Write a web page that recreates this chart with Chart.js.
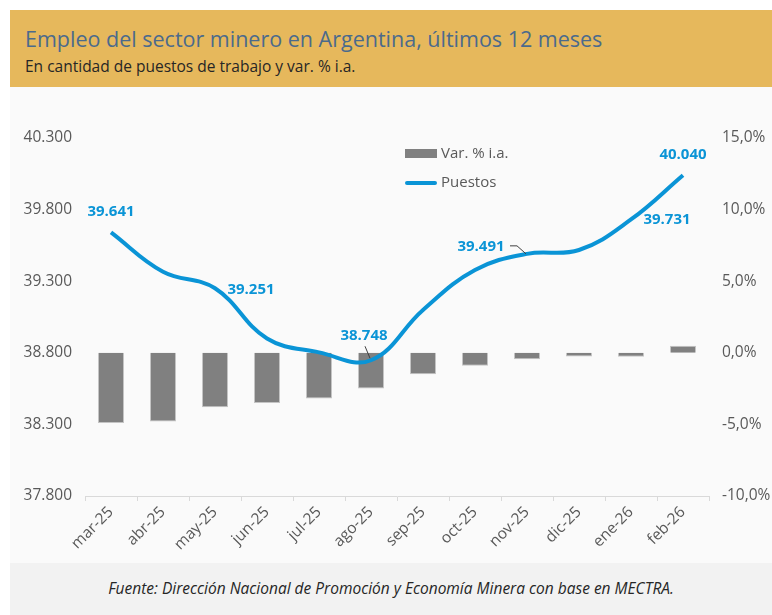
<!DOCTYPE html>
<html>
<head>
<meta charset="utf-8">
<script src="https://cdn.jsdelivr.net/npm/chart.js@4"></script>
<style>
  body { margin: 0; background: #fff; font-family: 'Open Sans', sans-serif; }
  #page { position: relative; width: 772px; height: 615px; overflow: hidden; }
  #header { position: absolute; left: 10px; top: 10px; width: 762px; height: 77px; background: #E6B85C; }
  #title { position: absolute; left: 15px; top: 14px; font-size: 21.5px; color: #4B6A8C; white-space: nowrap; }
  #subtitle { position: absolute; left: 15px; top: 45px; font-size: 15.5px; color: #262626; white-space: nowrap; }
  #chartBox { position: absolute; left: 10px; top: 87px; width: 762px; height: 476px; background: #FAFAFA; }
  #footer { position: absolute; left: 10px; top: 563px; width: 762px; height: 52px; background: #F2F2F2;
            text-align: center; line-height: 50px; font-size: 15.5px; font-style: italic; color: #262626; }
</style>
</head>
<body>
<div id="page">
  <div id="header">
    <div id="title">Empleo del sector minero en Argentina, últimos 12 meses</div>
    <div id="subtitle">En cantidad de puestos de trabajo y var. % i.a.</div>
  </div>
  <div id="chartBox"><canvas id="chart" width="762" height="476"></canvas></div>
  <div id="footer">Fuente: Dirección Nacional de Promoción y Economía Minera con base en MECTRA.</div>
</div>
<script>
// Datos
const months = ['mar-25', 'abr-25', 'may-25', 'jun-25', 'jul-25', 'ago-25', 'sep-25', 'oct-25', 'nov-25', 'dic-25', 'ene-26', 'feb-26'];
const puestos = [39641, 39366, 39251, 38900, 38803, 38748, 39099, 39378, 39491, 39518, 39731, 40040];
const varIa = [-4.9, -4.8, -3.8, -3.5, -3.2, -2.5, -1.5, -0.9, -0.45, -0.25, -0.28, 0.5];
const leftTicks = [37800, 38300, 38800, 39300, 39800, 40300];
const rightTicks = [-10, -5, 0, 5, 10, 15];

const blue = '#0A94D6';
const grey = '#595959';

Chart.defaults.font.family = "'Open Sans', sans-serif";
Chart.defaults.color = grey;

function miles(v) {
    return String(v).replace(/\B(?=(\d{3})+(?!\d))/g, '.');
}

// donde va cada etiqueta de valor respecto del punto (dx, dy, guía)
const labelSpots = {
    0: { dx: 0, dy: -21 },
    2: { dx: 36, dy: 2 },
    5: { dx: -7, dy: -25, guide: [[-6, -14], [-1, -2]] },
    8: { dx: -46, dy: -7, guide: [[-17, -8], [-10, -8], [-1, 0]] },
    10: { dx: 36, dy: 0 },
    11: { dx: 0, dy: -20 }
};

const valueLabels = {
    id: 'valueLabels',
    afterDatasetsDraw(chart) {
        const ctx = chart.ctx;
        const meta = chart.getDatasetMeta(1);
        ctx.save();
        Object.keys(labelSpots).forEach(function(k) {
            const i = Number(k);
            const pt = meta.data[i];
            const spot = labelSpots[k];
            if (spot.guide) {
                ctx.strokeStyle = '#404040';
                ctx.lineWidth = 1;
                ctx.beginPath();
                spot.guide.forEach(function(g, j) {
                    if (j === 0) ctx.moveTo(pt.x + g[0], pt.y + g[1]);
                    else ctx.lineTo(pt.x + g[0], pt.y + g[1]);
                });
                ctx.stroke();
            }
            ctx.fillStyle = blue;
            ctx.font = "bold 15px 'Open Sans', sans-serif";
            ctx.textAlign = 'center';
            ctx.textBaseline = 'middle';
            ctx.fillText(miles(puestos[i]), pt.x + spot.dx, pt.y + spot.dy);
        });
        ctx.restore();
    }
};

const innerLegend = {
    id: 'innerLegend',
    afterDraw(chart) {
        const ctx = chart.ctx;
        ctx.save();
        ctx.fillStyle = '#808080';
        ctx.fillRect(395, 62, 32, 9);
        ctx.strokeStyle = blue;
        ctx.lineWidth = 4;
        ctx.lineCap = 'round';
        ctx.beginPath();
        ctx.moveTo(397, 96);
        ctx.lineTo(425, 96);
        ctx.stroke();
        ctx.fillStyle = grey;
        ctx.font = "15px 'Open Sans', sans-serif";
        ctx.textAlign = 'left';
        ctx.textBaseline = 'middle';
        ctx.fillText(chart.data.datasets[0].label, 431, 67);
        ctx.fillText(chart.data.datasets[1].label, 431, 96);
        ctx.restore();
    }
};

new Chart(document.getElementById('chart').getContext('2d'), {
    type: 'bar',
    data: {
        labels: months,
        datasets: [{
            type: 'bar',
            label: 'Var. % i.a.',
            data: varIa,
            yAxisID: 'yRight',
            backgroundColor: '#808080',
            borderColor: '#C4C4C4',
            borderWidth: 1,
            barPercentage: 0.5,
            categoryPercentage: 1,
            order: 2
        }, {
            type: 'line',
            label: 'Puestos',
            data: puestos,
            yAxisID: 'yLeft',
            borderColor: blue,
            borderWidth: 4,
            tension: 0.4,
            pointRadius: 0,
            fill: false,
            order: 1
        }]
    },
    options: {
        responsive: false,
        animation: false,
        layout: { padding: { top: 51, left: 0, right: 0, bottom: 0 } },
        plugins: {
            legend: { display: false },
            tooltip: { enabled: false }
        },
        scales: {
            x: {
                grid: { offset: true, drawOnChartArea: false, drawTicks: true, tickLength: 5, color: '#D9D9D9' },
                border: { display: true, color: '#D9D9D9' },
                ticks: { minRotation: 45, maxRotation: 45, padding: 2, color: grey, font: { size: 15.5 } },
                afterFit(scale) { scale.height = 67; }
            },
            yLeft: {
                position: 'left',
                min: leftTicks[0],
                max: leftTicks[leftTicks.length - 1],
                grid: { display: false, drawTicks: false },
                border: { display: false },
                afterBuildTicks(scale) { scale.ticks = leftTicks.map(v => ({ value: v })); },
                ticks: { padding: 13, color: grey, font: { size: 15.5 }, callback: v => miles(v) },
                afterFit(scale) { scale.width = 75; }
            },
            yRight: {
                position: 'right',
                min: rightTicks[0],
                max: rightTicks[rightTicks.length - 1],
                grid: { display: false, drawTicks: false },
                border: { display: false },
                afterBuildTicks(scale) { scale.ticks = rightTicks.map(v => ({ value: v })); },
                ticks: { padding: 13, color: grey, font: { size: 15.5 }, callback: v => v.toFixed(1).replace('.', ',') + '%' },
                afterFit(scale) { scale.width = 63; }
            }
        }
    },
    plugins: [valueLabels, innerLegend]
});
</script>
</body>
</html>
